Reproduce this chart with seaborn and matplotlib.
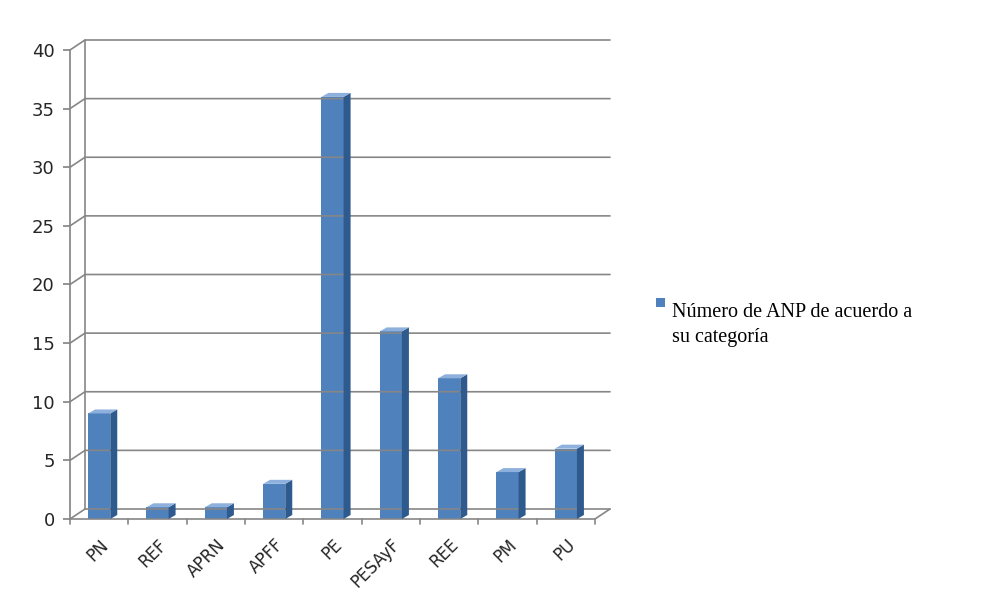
import matplotlib
matplotlib.use("Agg")
import matplotlib.pyplot as plt
import seaborn as sns
import numpy as np
from matplotlib.patches import Polygon, Rectangle
from matplotlib.transforms import IdentityTransform

categories = ["PN", "REF", "APRN", "APFF", "PE", "PESAyF", "REE", "PM", "PU"]
values = [9, 1, 1, 3, 36, 16, 12, 4, 6]
yticks = [0, 5, 10, 15, 20, 25, 30, 35, 40]
legend_label = "Número de ANP de acuerdo a\nsu categoría"

sns.set_theme(style="white")
plt.rcParams['font.family'] = ['DejaVu Sans']
DPI = 100
fig = plt.figure(figsize=(9.9, 6.08), dpi=DPI)
ax = fig.add_axes([70/990, (608-519)/608, 525/990, 469/608])

main = "#4F81BD"; side = "#2E5A8E"; top = "#8DB0DC"
sns.barplot(x=categories, y=values, color=main, width=0.38, ax=ax, saturation=1,
            edgecolor="none", zorder=3)
ax.set_xlim(-0.5, len(categories) - 0.5)
ax.set_ylim(0, 40)
ax.set_yticks(yticks)
for s in ["top", "right", "bottom"]:
    ax.spines[s].set_visible(False)
ax.spines["left"].set_color("#868686")
ax.tick_params(axis="y", length=5, color="#868686", left=True, labelsize=13, pad=6)
ax.tick_params(axis="x", length=0, labelsize=12, pad=12)
plt.setp(ax.get_xticklabels(), rotation=45, ha="right", rotation_mode="anchor")
ax.set_xlabel(""); ax.set_ylabel("")

fig.canvas.draw()
T = ax.transData.transform
ident = IdentityTransform()
GX, GY = 15, 10
BX, BY = 7, 4
gc = "#868686"

def line(pts, **kw):
    pts = np.array(pts)
    fig.add_artist(plt.Line2D(pts[:, 0], pts[:, 1], transform=ident, color=gc, lw=1.2, **kw))

x0, x1 = ax.get_xlim()
for y in yticks:
    a = T((x0, y)); b = T((x1, y))
    line([a, a + [GX, GY], b + [GX, GY]], zorder=1)
a0 = T((x0, 0)); b0 = T((x1, 0)); at = T((x0, 40))
line([a0 + [GX, GY], at + [GX, GY]], zorder=1)
line([a0, b0, b0 + [GX, GY]], zorder=1)
for i in range(len(categories) + 1):
    p = T((x0 + i, 0))
    line([p, p - [0, 5]], zorder=1)

for p in ax.patches:
    x, w, h = p.get_x(), p.get_width(), p.get_height()
    bl = T((x, 0)); br = T((x + w, 0)); tl = T((x, h)); tr = T((x + w, h))
    fig.add_artist(Polygon([br, tr, tr + [BX, BY], br + [BX, BY]], closed=True,
                           transform=ident, facecolor=side, edgecolor="none", zorder=4))
    fig.add_artist(Polygon([tl, tr, tr + [BX, BY], tl + [BX, BY]], closed=True,
                           transform=ident, facecolor=top, edgecolor="none", zorder=4))

fig.add_artist(Rectangle((656/990, (608-307)/608), 9/990, 9/608, transform=fig.transFigure,
                         facecolor=main, edgecolor="none"))
fig.text(672/990, (608-303)/608, legend_label, family="Liberation Serif", fontsize=14.5,
         va="top", ha="left", linespacing=1.45, color="black")

fig.savefig("out.png", dpi=DPI, facecolor="white")
